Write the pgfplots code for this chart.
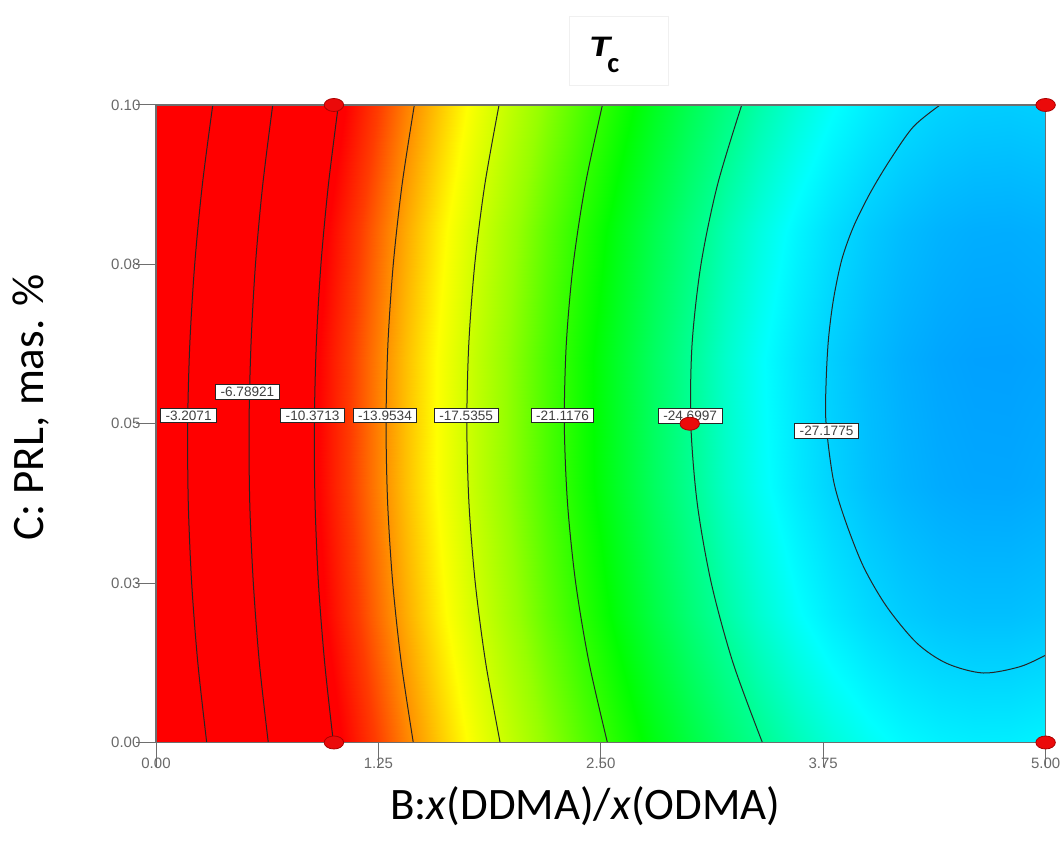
\documentclass[border=0pt]{standalone}
\usepackage{fontspec}
\setmainfont{Carlito}
\newfontfamily\arialf{Liberation Sans}
\usepackage{pgfplots}
\pgfplotsset{compat=1.18}
\definecolor{tickgray}{RGB}{105,105,105}
\definecolor{axgray}{RGB}{110,110,110}
\definecolor{ptred}{RGB}{235,10,10}
\definecolor{ptedge}{RGB}{170,0,0}
\pgfplotsset{colormap={dexp}{rgb255(0cm)=(0,160,255) rgb255(0.7cm)=(0,190,255) rgb255(1.4cm)=(0,222,255) rgb255(2.1cm)=(0,255,255) rgb255(3.6cm)=(0,255,150) rgb255(6.3cm)=(0,255,0) rgb255(9.3cm)=(150,255,0) rgb255(12.1cm)=(255,255,0) rgb255(14.3cm)=(255,150,0) rgb255(16.1cm)=(255,60,0) rgb255(17.7cm)=(255,0,0) rgb255(28.7cm)=(255,0,0)}}
\begin{document}
\begin{tikzpicture}
\useasboundingbox (0,0) rectangle (530pt,422pt);
\begin{axis}[
 at={(78pt,50.75pt)}, anchor=south west,
 view={0}{90},
 scale only axis, width=444.8pt, height=318.75pt,
 xmin=0, xmax=5, ymin=0, ymax=0.1,
 clip=false,
 colormap name=dexp,
 point meta min=-28.3, point meta max=0.4,
 xtick={0,1.25,2.5,3.75,5}, xticklabels={0.00,1.25,2.50,3.75,5.00},
 ytick={0,0.025,0.05,0.075,0.1}, yticklabels={0.00,0.03,0.05,0.08,0.10},
 ztick=\empty,
 xtick pos=left, ytick pos=left,
 tick align=outside,
 xtick style={/pgfplots/major tick length=12.5pt, axgray, line width=0.5pt},
 ytick style={/pgfplots/major tick length=10pt, axgray, line width=0.5pt},
 ticklabel style={font=\arialf\fontsize{7.5}{9}\selectfont, text=tickgray},
 axis line style={axgray, line width=0.6pt},
]
\addplot3[surf, shader=interp, mesh/rows=6, mesh/cols=26, point meta=z] coordinates {
(0,0,-0.06) (0.2,0,-2.29) (0.4,0,-4.41) (0.6,0,-6.44) (0.8,0,-8.37) (1,0,-10.20) (1.2,0,-11.94) (1.4,0,-13.57) (1.6,0,-15.12) (1.8,0,-16.56) (2,0,-17.91) (2.2,0,-19.16) (2.4,0,-20.31) (2.6,0,-21.36) (2.8,0,-22.32) (3,0,-23.18) (3.2,0,-23.94) (3.4,0,-24.61) (3.6,0,-25.18) (3.8,0,-25.65) (4,0,-26.02) (4.2,0,-26.30) (4.4,0,-26.48) (4.6,0,-26.56) (4.8,0,-26.55) (5,0,-26.44)
(0,0.02,-0.84) (0.2,0.02,-3.08) (0.4,0.02,-5.21) (0.6,0.02,-7.25) (0.8,0.02,-9.19) (1,0.02,-11.03) (1.2,0.02,-12.77) (1.4,0.02,-14.42) (1.6,0.02,-15.97) (1.8,0.02,-17.43) (2,0.02,-18.78) (2.2,0.02,-20.04) (2.4,0.02,-21.20) (2.6,0.02,-22.27) (2.8,0.02,-23.24) (3,0.02,-24.11) (3.2,0.02,-24.88) (3.4,0.02,-25.55) (3.6,0.02,-26.13) (3.8,0.02,-26.61) (4,0.02,-27.00) (4.2,0.02,-27.28) (4.4,0.02,-27.47) (4.6,0.02,-27.56) (4.8,0.02,-27.56) (5,0.02,-27.46)
(0,0.04,-1.19) (0.2,0.04,-3.43) (0.4,0.04,-5.58) (0.6,0.04,-7.62) (0.8,0.04,-9.57) (1,0.04,-11.43) (1.2,0.04,-13.18) (1.4,0.04,-14.84) (1.6,0.04,-16.40) (1.8,0.04,-17.86) (2,0.04,-19.23) (2.2,0.04,-20.50) (2.4,0.04,-21.67) (2.6,0.04,-22.74) (2.8,0.04,-23.72) (3,0.04,-24.60) (3.2,0.04,-25.38) (3.4,0.04,-26.06) (3.6,0.04,-26.65) (3.8,0.04,-27.14) (4,0.04,-27.54) (4.2,0.04,-27.83) (4.4,0.04,-28.03) (4.6,0.04,-28.13) (4.8,0.04,-28.14) (5,0.04,-28.04)
(0,0.06,-1.11) (0.2,0.06,-3.36) (0.4,0.06,-5.51) (0.6,0.06,-7.57) (0.8,0.06,-9.53) (1,0.06,-11.39) (1.2,0.06,-13.15) (1.4,0.06,-14.82) (1.6,0.06,-16.39) (1.8,0.06,-17.86) (2,0.06,-19.24) (2.2,0.06,-20.52) (2.4,0.06,-21.70) (2.6,0.06,-22.78) (2.8,0.06,-23.77) (3,0.06,-24.66) (3.2,0.06,-25.45) (3.4,0.06,-26.14) (3.6,0.06,-26.74) (3.8,0.06,-27.24) (4,0.06,-27.64) (4.2,0.06,-27.95) (4.4,0.06,-28.16) (4.6,0.06,-28.27) (4.8,0.06,-28.28) (5,0.06,-28.20)
(0,0.08,-0.59) (0.2,0.08,-2.85) (0.4,0.08,-5.01) (0.6,0.08,-7.08) (0.8,0.08,-9.04) (1,0.08,-10.92) (1.2,0.08,-12.69) (1.4,0.08,-14.37) (1.6,0.08,-15.95) (1.8,0.08,-17.43) (2,0.08,-18.81) (2.2,0.08,-20.10) (2.4,0.08,-21.29) (2.6,0.08,-22.39) (2.8,0.08,-23.38) (3,0.08,-24.28) (3.2,0.08,-25.08) (3.4,0.08,-25.78) (3.6,0.08,-26.39) (3.8,0.08,-26.90) (4,0.08,-27.32) (4.2,0.08,-27.63) (4.4,0.08,-27.85) (4.6,0.08,-27.97) (4.8,0.08,-27.99) (5,0.08,-27.92)
(0,0.1,0.37) (0.2,0.1,-1.90) (0.4,0.1,-4.08) (0.6,0.1,-6.15) (0.8,0.1,-8.13) (1,0.1,-10.01) (1.2,0.1,-11.79) (1.4,0.1,-13.48) (1.6,0.1,-15.07) (1.8,0.1,-16.56) (2,0.1,-17.96) (2.2,0.1,-19.25) (2.4,0.1,-20.45) (2.6,0.1,-21.56) (2.8,0.1,-22.56) (3,0.1,-23.47) (3.2,0.1,-24.28) (3.4,0.1,-25.00) (3.6,0.1,-25.61) (3.8,0.1,-26.13) (4,0.1,-26.55) (4.2,0.1,-26.88) (4.4,0.1,-27.11) (4.6,0.1,-27.24) (4.8,0.1,-27.27) (5,0.1,-27.21)
};
% contour lines
\addplot3[black!85, line width=0.5pt, smooth, mark=none] coordinates {(0.285,0,0) (0.235,0.0125,0) (0.2005,0.025,0) (0.1815,0.0375,0) (0.178,0.05,0) (0.190,0.0625,0) (0.2175,0.075,0) (0.2605,0.0875,0) (0.319,0.1,0)};
\addplot3[black!85, line width=0.5pt, smooth, mark=none] coordinates {(0.631,0,0) (0.581,0.0125,0) (0.547,0.025,0) (0.527,0.0375,0) (0.523,0.05,0) (0.534,0.0625,0) (0.559,0.075,0) (0.600,0.0875,0) (0.656,0.1,0)};
\addplot3[black!85, line width=0.5pt, smooth, mark=none] coordinates {(0.997,0,0) (0.948,0.0125,0) (0.913,0.025,0) (0.894,0.0375,0) (0.890,0.05,0) (0.901,0.0625,0) (0.927,0.075,0) (0.969,0.0875,0) (1.025,0.1,0)};
\addplot3[black!85, line width=0.5pt, smooth, mark=none] coordinates {(1.446,0,0) (1.3785,0.0125,0) (1.3305,0.025,0) (1.302,0.0375,0) (1.293,0.05,0) (1.3035,0.0625,0) (1.3335,0.075,0) (1.383,0.0875,0) (1.452,0.1,0)};
\addplot3[black!85, line width=0.5pt, smooth, mark=none] coordinates {(1.934,0,0) (1.853,0.0125,0) (1.7945,0.025,0) (1.759,0.0375,0) (1.747,0.05,0) (1.758,0.0625,0) (1.7915,0.075,0) (1.848,0.0875,0) (1.928,0.1,0)};
\addplot3[black!85, line width=0.5pt, smooth, mark=none] coordinates {(2.537,0,0) (2.434,0.0125,0) (2.359,0.025,0) (2.313,0.0375,0) (2.295,0.05,0) (2.306,0.0625,0) (2.345,0.075,0) (2.413,0.0875,0) (2.509,0.1,0)};
\addplot3[black!85, line width=0.5pt, smooth, mark=none] coordinates {(3.408,0,0) (3.243,0.0125,0) (3.121,0.025,0) (3.042,0.0375,0) (3.006,0.05,0) (3.013,0.0625,0) (3.063,0.075,0) (3.156,0.0875,0) (3.292,0.1,0)};
\addplot3[black!85, line width=0.5pt, smooth, mark=none] coordinates {(4.407,0.1,0) (4.257,0.0966,0) (4.126,0.0914,0) (4.014,0.0862,0) (3.920,0.0809,0) (3.854,0.0757,0) (3.807,0.0694,0) (3.779,0.0631,0) (3.766,0.0563,0) (3.766,0.0501,0) (3.807,0.0412,0) (3.873,0.0349,0) (3.976,0.0276,0) (4.107,0.0213,0) (4.276,0.0156,0) (4.445,0.0124,0) (4.650,0.0109,0) (4.857,0.0119,0) (5.0,0.0137,0)};
% contour labels
\addplot3[draw=none, mark=none, nodes near coords, point meta=explicit symbolic,
 every node near coord/.style={anchor=center, draw=black!85, fill=white, line width=0.4pt, inner xsep=2.5pt, inner ysep=1.2pt, font=\arialf\fontsize{6.8}{8}\selectfont, text=black!75}]
 coordinates {(0.183,0.0513,0) [-3.2071] (0.514,0.0550,0) [-6.78921] (0.880,0.0513,0) [-10.3713] (1.287,0.0513,0) [-13.9534] (1.743,0.0513,0) [-17.5355] (2.285,0.0513,0) [-21.1176] (3.002,0.0512,0) [-24.6997] (3.769,0.0489,0) [-27.1775]};
% design points
\addplot3[only marks, mark=*, mark size=3.25pt, mark options={xscale=1.5, fill=ptred, draw=ptedge, line width=0.4pt}] coordinates {(1,0.1,0) (5,0.1,0) (3,0.05,0) (1,0,0) (5,0,0)};
\end{axis}
\draw[black!6] (284.5pt,414pt) rectangle (334pt,379.5pt);
\node[anchor=base west, inner sep=0, font=\fontsize{14.2}{17}\selectfont] at (294.5pt,393.5pt) {\scalebox{1.5}[1.05]{\bfseries\itshape T}\kern-1.5pt\raisebox{-8pt}{\bfseries c}};
\node[anchor=base west, inner sep=0, font=\fontsize{22.5}{27}\selectfont] at (195pt,12pt) {B:\textit{x}(DDMA)/\textit{x}(ODMA)};
\node[rotate=90, anchor=base west, inner sep=0, font=\fontsize{22.5}{27}\selectfont] at (21.5pt,151.5pt) {C: PRL, mas. \%};
\end{tikzpicture}
\end{document}
